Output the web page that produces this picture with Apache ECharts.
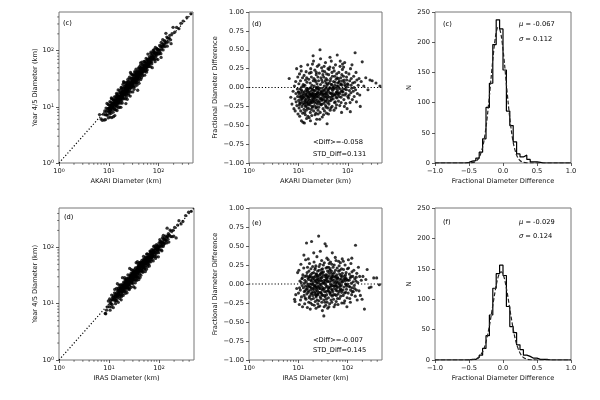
<!DOCTYPE html>
<html style="height: 100%">
<head>
<meta charset="utf-8">
<title></title>
<script type="text/javascript" src="https://cdn.jsdelivr.net/npm/echarts@6.0.0/dist/echarts.min.js"></script>
</head>
<body style="height: 100%; margin: 0">
<div id="container" style="width: 600px; height: 400px"></div>
<script type="text/javascript">
// [AKARI diameter (km), fractional diameter difference]
var akariPoints = [
	[6.5,0.12],[7.0,-0.13],[7.4,-0.22],[7.8,-0.05],
	[8.1,-0.28],[8.3,0.02],[8.5,-0.15],[8.6,-0.31],[8.8,0.08],[8.9,-0.08],[9.0,-0.19],[9.2,0.25],[9.3,-0.24],[9.5,-0.02],[9.6,-0.12],[9.7,0.14],[9.8,-0.35],[9.9,-0.06],
	[10.1,-0.17],[10.2,0.05],[10.3,-0.27],[10.4,-0.09],[10.5,0.18],[10.6,-0.38],[10.7,-0.13],[10.8,-0.02],[10.9,-0.21],[11.0,0.09],[11.1,-0.31],[11.2,-0.07],[11.3,-0.16],[11.4,0.22],[11.5,-0.44],[11.6,-0.11],[11.7,0.01],[11.8,-0.25],[11.9,-0.05],[12.0,-0.19],[12.1,0.13],[12.2,-0.34],[12.3,-0.1],[12.4,-0.46],[12.5,0.04],[10.45,-0.23],[11.25,0.28],[12.15,-0.14],
	[12.7,-0.08],[12.9,-0.29],[13.0,0.16],[13.2,-0.47],[13.3,-0.12],[13.5,0.03],[13.6,-0.2],[13.8,-0.36],[13.9,0.1],[14.0,-0.04],[14.2,-0.24],[14.3,0.21],[14.5,-0.15],[14.6,-0.41],[14.8,-0.07],[14.9,0.07],[15.1,-0.27],[15.2,-0.11],[15.4,0.3],[15.5,-0.18],[15.7,-0.02],[12.8,0.02],[13.4,-0.33],[13.7,-0.16],[14.1,-0.09],[14.4,-0.3],[14.7,0.13],[15.0,-0.21],[15.3,-0.05],[15.6,-0.38],[13.1,-0.22],[14.55,-0.01],
	[15.9,-0.13],[16.1,0.11],[16.2,-0.28],[16.4,-0.06],[16.5,-0.4],[16.7,0.19],[16.8,-0.17],[17.0,-0.01],[17.1,-0.23],[17.3,0.06],[17.4,-0.33],[17.6,-0.1],[17.7,0.25],[17.9,-0.19],[18.0,-0.05],[18.2,-0.29],[18.3,0.14],[18.5,-0.12],[18.6,-0.37],[18.8,0.03],[18.9,-0.2],[19.1,-0.08],[19.2,0.31],[19.4,-0.26],[19.5,-0.03],[19.7,-0.15],[19.9,0.09],[16.0,-0.21],[16.9,-0.09],[17.5,-0.44],[18.1,0.2],[18.7,-0.25],[19.3,-0.11],[19.8,0.42],
	[20.1,-0.07],[20.3,-0.31],[20.5,0.12],[20.7,-0.18],[20.9,0.02],[21.1,-0.24],[21.3,-0.11],[21.5,0.23],[21.7,-0.36],[21.9,-0.04],[22.1,-0.16],[22.3,0.08],[22.5,-0.27],[22.7,-0.09],[22.9,0.17],[23.1,-0.2],[23.3,-0.01],[23.5,-0.42],[23.7,0.05],[23.9,-0.13],[24.1,0.28],[24.3,-0.22],[24.5,-0.06],[24.7,0.14],[24.9,-0.3],[20.2,0.35],[21.0,-0.14],[21.8,0.1],[22.6,-0.34],[23.4,-0.08],[24.0,-0.17],[24.6,0.01],[22.0,-0.48],[23.0,0.2],
	[25.2,-0.12],[25.5,0.09],[25.8,-0.26],[26.1,-0.03],[26.4,0.19],[26.7,-0.19],[27.0,-0.08],[27.3,0.5],[27.6,-0.33],[27.9,0.04],[28.2,-0.14],[28.5,0.13],[28.8,-0.23],[29.1,-0.05],[29.4,0.26],[29.7,-0.17],[30.0,-0.01],[30.3,-0.39],[30.6,0.07],[30.9,-0.1],[31.2,0.17],[31.5,-0.28],[25.0,-0.35],[26.0,0.3],[27.1,-0.15],[28.0,0.38],[28.9,-0.09],[29.9,-0.22],[30.8,0.22],[31.7,-0.04],[26.9,-0.42],[29.5,0.1],
	[32.0,-0.08],[32.4,0.14],[32.8,-0.21],[33.2,0.02],[33.6,-0.31],[34.0,0.21],[34.4,-0.12],[34.8,-0.02],[35.2,0.33],[35.6,-0.18],[36.0,0.06],[36.4,-0.26],[36.8,-0.06],[37.2,0.18],[37.6,-0.14],[38.0,-0.48],[38.4,0.1],[38.8,-0.2],[39.2,-0.03],[39.6,0.25],[32.2,-0.36],[33.0,0.28],[33.8,-0.09],[34.6,0.09],[35.4,-0.24],[36.2,0.12],[37.0,-0.34],[37.8,0.03],[38.6,-0.1],[39.4,-0.27],
	[40.2,-0.05],[40.8,0.17],[41.4,-0.22],[42.0,0.06],[42.6,-0.13],[43.2,0.27],[43.8,-0.3],[44.4,-0.01],[45.0,0.12],[45.6,-0.17],[46.2,0.35],[46.8,-0.08],[47.4,0.04],[48.0,-0.25],[48.6,0.15],[49.2,-0.11],[49.8,0.01],[40.5,-0.35],[41.7,0.24],[42.9,-0.07],[44.1,0.09],[45.3,-0.27],[46.5,-0.15],[47.7,0.2],[48.9,-0.04],[43.5,0.4],
	[50.5,-0.15],[51.3,0.08],[52.1,-0.02],[52.9,0.22],[53.7,-0.2],[54.5,0.03],[55.3,-0.1],[56.1,0.3],[56.9,-0.27],[57.7,0.11],[58.5,-0.06],[59.3,0.18],[60.1,-0.14],[60.9,0.43],[61.7,-0.03],[62.5,0.06],[51.0,0.26],[52.5,-0.3],[54.0,0.15],[55.7,-0.19],[57.3,-0.01],[58.9,-0.23],[60.5,0.13],[62.0,-0.08],
	[63.5,0.02],[64.5,-0.18],[65.5,0.2],[66.5,-0.07],[67.5,0.09],[68.5,-0.24],[69.5,0.28],[70.5,-0.02],[71.5,0.13],[72.5,-0.13],[73.5,0.05],[74.5,-0.33],[75.5,0.17],[76.5,-0.05],[77.5,0.24],[78.5,-0.1],[64.0,0.12],[67.0,-0.12],[70.0,0.35],[73.0,-0.2],[76.0,0.03],[78.0,0.31],
	[80,-0.06],[81.5,0.15],[83,-0.16],[84.5,0.07],[86,0.33],[87.5,-0.1],[89,0.02],[90.5,-0.21],[92,0.2],[93.5,-0.03],[95,0.1],[96.5,-0.28],[98,0.05],[99.5,-0.12],[82,0.27],[88,-0.02],[94,0.14],[85,-0.25],
	[101,0.04],[103,-0.14],[105,0.18],[107,-0.04],[109,0.09],[111,-0.2],[113,0.25],[115,-0.07],[117,0.12],[119,-0.01],[121,0.3],[123,-0.16],[125,0.06],[112,-0.32],
	[128,-0.05],[131,0.15],[134,-0.12],[137,0.07],[140,0.46],[143,-0.03],[146,0.2],[149,-0.19],[152,0.1],[156,-0.08],
	[162,0.03],[168,0.12],[174,-0.1],[178,-0.25],[186,0.08],[195,0.34],
	[210,0.02],[230,0.13],[255,-0.03],[280,0.1],[310,0.09],[370,0.06],[445,0.02],
	[10.15,-0.06],[10.65,-0.2],[11.05,-0.12],[11.45,-0.03],[11.85,-0.15],[12.25,-0.22],[12.65,-0.13],[13.05,-0.06],[13.45,-0.18],[13.85,-0.25],[14.25,-0.1],[14.65,-0.19],[15.05,-0.03],[15.45,-0.12],[15.85,-0.23],[16.25,-0.15],[16.65,-0.08],[17.05,-0.12],[17.45,-0.2],[17.85,0.0],[18.25,-0.09],[18.65,-0.16],[19.05,-0.02],[19.45,-0.18],[19.85,-0.1],
	[20.4,-0.13],[20.8,-0.04],[21.2,-0.2],[21.6,-0.09],[22.4,-0.12],[22.8,0.0],[23.2,-0.26],[23.6,-0.1],[24.4,-0.02],[24.8,-0.07],[25.4,-0.19],[26.2,-0.1],[26.6,-0.01],[27.4,-0.22],[28.4,-0.06],[29.0,-0.15],[29.8,-0.07],[30.5,-0.16],[31.4,-0.12],
	[32.6,-0.15],[33.4,-0.04],[34.2,-0.18],[35.0,-0.08],[35.8,-0.12],[36.6,0.0],[37.4,-0.08],[38.2,-0.16],[39.0,0.05],[40.0,-0.12],[41.0,-0.02],[42.3,-0.18],[43.0,0.0],[44.7,-0.08],[45.9,0.04],[47.1,-0.12],[48.3,-0.02],
	[50.0,-0.08],[51.7,0.0],[53.3,-0.1],[55.0,0.07],[56.5,-0.08],[58.2,-0.13],[59.8,0.02],[61.3,-0.06],[63.0,-0.1],[65.0,0.0],[66.0,0.07],[69.0,-0.08],[71.0,0.04],[74.0,-0.05],[77.0,0.09],
	[81,-0.02],[84,0.1],[87,0.04],[91,-0.08],[97,0.01],[106,-0.1],[116,0.03],[133,0.0]
];

// [IRAS diameter (km), fractional diameter difference]
var irasPoints = [
	[8.4,-0.2],[8.6,-0.23],[8.9,-0.14],[9.3,-0.06],[9.7,0.15],
	[10.1,-0.12],[10.3,0.18],[10.5,-0.27],[10.8,0.04],[11.0,-0.08],[11.3,0.26],[11.6,-0.17],[11.8,0.07],[12.0,-0.02],[12.2,-0.3],[12.4,0.12],[11.1,-0.21],
	[12.7,-0.05],[12.9,0.21],[13.1,-0.15],[13.3,0.01],[13.5,-0.26],[13.7,0.1],[13.9,-0.09],[14.1,0.32],[14.3,-0.2],[14.5,0.03],[14.7,0.54],[14.9,-0.13],[15.1,0.15],[15.3,-0.31],[15.5,-0.03],[15.7,0.08],[13.0,0.38],[13.8,-0.18],[14.6,-0.07],[15.4,0.22],
	[15.9,-0.11],[16.1,0.06],[16.3,-0.24],[16.5,0.17],[16.7,-0.03],[16.9,0.27],[17.1,-0.16],[17.3,0.0],[17.5,-0.33],[17.7,0.12],[17.9,-0.08],[18.1,0.2],[18.3,-0.2],[18.5,0.04],[18.6,0.56],[18.8,-0.12],[19.0,0.14],[19.2,-0.27],[19.4,-0.01],[19.6,0.23],[19.8,-0.15],[16.0,0.33],[16.6,-0.18],[17.2,0.09],[17.8,-0.25],[18.4,-0.05],[19.1,0.09],[19.7,-0.06],
	[20.1,0.02],[20.3,-0.19],[20.5,0.15],[20.7,-0.07],[20.9,0.29],[21.1,-0.28],[21.3,0.06],[21.5,-0.12],[21.7,0.19],[21.9,-0.02],[22.1,-0.23],[22.3,0.1],[22.5,-0.1],[22.7,0.24],[22.9,-0.32],[23.1,0.03],[23.3,-0.15],[23.5,0.13],[23.7,-0.05],[23.9,0.36],[24.1,-0.21],[24.3,0.07],[24.5,-0.09],[24.7,0.17],[24.9,-0.26],[20.6,0.41],[21.4,-0.02],[22.2,0.21],[23.0,-0.17],[23.8,0.05],[24.6,-0.13],[22.6,-0.04],
	[25.1,0.11],[25.3,-0.14],[25.6,0.02],[25.9,0.63],[26.2,-0.22],[26.5,0.18],[26.8,-0.06],[27.1,0.08],[27.4,-0.29],[27.7,0.26],[28.0,0.43],[28.3,-0.11],[28.6,0.05],[28.9,-0.19],[29.2,0.15],[29.5,-0.03],[29.8,0.31],[30.1,-0.24],[30.4,0.09],[30.7,-0.08],[31.0,0.2],[31.3,-0.15],[31.6,0.01],[25.5,-0.3],[26.4,0.23],[27.3,-0.01],[28.2,0.13],[29.1,-0.12],[30.0,0.04],[30.9,-0.35],[31.8,0.12],[26.0,-0.04],[27.9,-0.17],[29.7,0.19],
	[32.1,-0.07],[32.5,0.16],[32.9,-0.21],[33.3,0.05],[33.0,-0.42],[33.7,0.28],[34.1,-0.1],[34.5,0.01],[34.9,0.53],[35.3,-0.17],[35.7,0.12],[36.1,-0.28],[36.5,0.21],[36.9,-0.04],[37.0,0.5],[37.3,0.09],[37.7,-0.14],[38.1,0.34],[38.5,-0.24],[38.9,0.03],[39.3,0.17],[39.7,-0.09],[32.3,0.25],[33.5,-0.3],[34.7,0.1],[35.9,-0.01],[37.1,-0.2],[38.3,0.07],[39.5,-0.32],[34.3,-0.15],[36.3,0.06],[38.7,0.22],
	[40.3,0.04],[40.9,-0.18],[41.5,0.22],[42.1,-0.05],[42.7,0.11],[43.3,-0.26],[43.9,0.18],[44.5,-0.11],[45.1,0.29],[45.7,0.0],[46.3,-0.21],[46.9,0.14],[47.5,-0.07],[48.1,0.26],[48.7,-0.16],[49.0,0.41],[49.3,0.06],[49.9,-0.02],[40.6,0.32],[41.8,-0.3],[43.0,0.03],[44.2,0.2],[45.4,-0.14],[46.6,0.08],[47.8,-0.24],[48.4,0.1],[41.2,-0.09],[44.8,-0.04],[47.2,0.17],[42.4,0.27],
	[50.4,-0.1],[51.2,0.13],[52.0,-0.2],[52.8,0.05],[53.6,0.25],[54.4,-0.06],[55.2,0.09],[56.0,-0.27],[56.8,0.18],[57.6,-0.02],[58.4,0.31],[59.2,-0.15],[60.0,0.07],[60.8,-0.09],[61.6,0.21],[62.4,-0.19],[50.8,0.22],[52.4,-0.03],[54.0,0.15],[55.6,-0.14],[57.2,0.02],[58.8,-0.23],[60.4,0.12],[62.0,0.01],[53.2,-0.3],[56.4,0.35],[59.6,0.04],[61.2,-0.05],
	[63.5,0.08],[64.5,-0.13],[65.5,0.17],[66.5,-0.04],[67.5,0.24],[68.5,-0.19],[69.5,0.06],[70.5,-0.08],[71.5,0.28],[72.5,-0.16],[73.5,0.11],[74.5,-0.02],[75.5,0.2],[76.5,-0.25],[77.5,0.04],[78.5,0.14],[64.0,-0.27],[66.0,0.3],[68.0,0.0],[70.0,0.18],[72.0,-0.06],[74.0,0.07],[76.0,-0.11],[78.0,0.33],
	[80,0.03],[81.5,-0.15],[83,0.19],[84.5,-0.04],[86,0.1],[87.5,-0.22],[89,0.25],[90.5,0.0],[92,-0.11],[93.5,0.15],[95,-0.07],[96.5,0.06],[98,-0.18],[99.5,0.2],[82,0.3],[85,-0.25],[88,0.07],[91,0.12],[94,-0.01],[97,-0.3],
	[101,0.05],[103,-0.12],[105,0.21],[107,-0.03],[109,0.13],[111,-0.19],[113,0.08],[115,-0.08],[117,0.27],[119,0.01],[121,-0.14],[123,0.16],[125,-0.05],[104,0.32],[114,-0.24],[122,0.34],
	[128,0.1],[131,-0.1],[134,0.18],[137,-0.02],[140,0.07],[143,-0.16],[145,0.51],[148,0.04],[151,-0.08],[154,0.14],[157,-0.21],
	[161,0.02],[166,0.22],[171,-0.09],[176,0.1],[182,-0.15],[190,0.05],[197,-0.2],
	[205,0.1],[220,-0.33],[235,0.06],[250,0.19],[275,-0.05],[300,-0.04],[340,0.08],[390,0.08],[440,-0.01],
	[10.6,-0.05],[11.5,0.02],[12.1,0.08],[13.2,-0.1],[13.6,0.05],[14.0,-0.03],[14.8,0.11],[15.2,-0.06],[15.6,0.0],[16.2,-0.09],[16.8,0.1],[17.4,-0.04],[18.0,0.05],[18.2,-0.13],[18.9,0.0],[19.5,0.07],
	[20.0,-0.1],[20.8,0.09],[21.2,-0.04],[21.8,0.04],[22.4,-0.14],[22.8,0.13],[23.4,-0.07],[24.0,0.01],[24.4,0.1],[24.8,-0.03],[25.4,0.06],[26.1,-0.11],[26.7,0.04],[27.5,0.12],[28.1,-0.06],[28.8,0.0],[29.4,0.08],[30.2,-0.14],[30.8,0.15],[31.5,-0.05],
	[32.7,0.02],[33.9,-0.06],[34.8,-0.24],[35.5,0.04],[36.7,-0.1],[37.9,0.12],[39.1,-0.03],[39.9,0.09],[40.8,-0.06],[42.0,0.15],[43.6,-0.12],[45.0,0.07],[46.0,-0.02],[47.0,0.04],[48.6,-0.08],
	[50.2,0.1],[51.6,-0.14],[53.0,0.02],[55.0,-0.02],[57.0,0.1],[58.0,-0.08],[60.2,-0.03],[62.8,0.08],[65.0,0.03],[67.0,-0.1],[69.0,0.13],[71.0,-0.02],[73.0,0.02],[75.0,-0.08],[77.0,0.1],
	[80.8,-0.08],[83.8,0.06],[86.8,-0.12],[89.8,0.04],[92.8,0.08],[95.8,-0.03],[100,0.0],[108,0.05],[112,-0.04],[118,0.1],[124,-0.1],[130,0.03],[139,-0.06],[150,0.09]
];

// histogram: 40 bins of 0.05 from -1.0 to 1.0
var histStart = -1.0;
var histWidth = 0.05;
var akariCounts = [0,0,0,0,0,0,0,0,0,1, 3,4,8,18,40,92,132,196,237,222, 154,86,62,35,15,10,13,6,2,2, 1,0,0,0,0,0,0,0,0,0];
var irasCounts  = [0,0,0,0,0,0,0,0,0,0, 1,1,4,8,19,40,74,118,142,156, 139,88,55,45,25,17,8,6,3,3, 1,1,1,0,0,0,0,0,0,0];

// gaussian fit curves
var fitX = [-1.0,-0.8,-0.6,-0.5,-0.45,-0.4,-0.35,-0.3,-0.275,-0.25,-0.225,-0.2,-0.175,-0.15,-0.125,-0.1,-0.075,-0.05,-0.025,0,0.025,0.05,0.075,0.1,0.125,0.15,0.175,0.2,0.225,0.25,0.275,0.3,0.35,0.4,0.45,0.5,0.6,0.8,1.0];
var akariFit = [0,0,0,0.1,0.65,2.7,9.2,26,40,59,83,111,141,171,197,216,224,222,210,188,161,130,101,74,52,34,22,13,7.5,4.1,2.1,1.05,0.2,0,0,0,0,0,0];
var irasFit = [0,0,0,0.1,0.45,1.65,5.1,13.3,20,29.6,42,56,72.5,90,107,123,135,143,145,141,132,118,102,84,67,51,37,26,18,11.5,7,4.3,1.4,0.4,0.1,0,0,0,0];

var logMinor = [2,3,4,5,6,7,8,9,20,30,40,50,60,70,80,90,200,300,400];
var topMax = 490;
var botMax = 500;

var fontFam = '"DejaVu Sans", sans-serif';
var fs = 6.7;

var dom = document.getElementById('container');
var myChart = echarts.init(dom);

function gridBox(left, top, width, height) {
	return {left: left, top: top, width: width, height: height, show: true,
		borderColor: '#777', borderWidth: 1, backgroundColor: 'transparent', outerBoundsMode: 'none'};
}

function logFmt(v) {
	return '10{s|' + Math.round(Math.log10(v)) + '}';
}
function numFmt(d) {
	return function(v) { return v.toFixed(d).replace('-', '\u2212'); };
}

function makeAxis(gi, opt) {
	var a = {
		gridIndex: gi,
		nameLocation: 'middle',
		splitLine: {show: false},
		axisLine: {show: false, onZero: false},
		axisTick: {show: true, inside: false, length: 3, lineStyle: {color: '#333', width: 0.8}},
		axisLabel: {fontSize: fs, fontFamily: fontFam, color: '#111', margin: 5},
		nameTextStyle: {fontSize: fs, fontFamily: fontFam, color: '#111'}
	};
	if (opt.type === 'log') {
		a.axisLabel.formatter = logFmt;
		a.axisLabel.showMaxLabel = false;
		a.axisLabel.rich = {s: {fontSize: 4.8, fontFamily: fontFam, color: '#111', verticalAlign: 'top'}};
	}
	if (opt.fmt) a.axisLabel.formatter = opt.fmt;
	for (var k in opt) {
		if (k !== 'fmt') a[k] = opt[k];
	}
	return a;
}

function minorTicks(ai, dim, edge, max) {
	var data = [];
	for (var i = 0; i < logMinor.length; i++) {
		if (logMinor[i] < max) data.push(dim === 'x' ? [logMinor[i], edge] : [edge, logMinor[i]]);
	}
	return {
		type: 'custom', xAxisIndex: ai, yAxisIndex: ai, silent: true, clip: false, data: data, z: 5,
		renderItem: function(params, api) {
			var p = api.coord([api.value(0), api.value(1)]);
			var shape = dim === 'x' ? {x1: p[0], y1: p[1], x2: p[0], y2: p[1] + 1.8}
				: {x1: p[0] - 1.8, y1: p[1], x2: p[0], y2: p[1]};
			return {type: 'line', shape: shape, style: {stroke: '#333', lineWidth: 0.7}};
		}
	};
}

function stepData(counts) {
	var d = [];
	for (var i = 0; i < counts.length; i++) {
		d.push([Math.round((histStart + i * histWidth) * 100) / 100, counts[i]]);
	}
	d.push([Math.round((histStart + counts.length * histWidth) * 100) / 100, 0]);
	return d;
}
function fitData(fit) {
	var d = [];
	for (var i = 0; i < fitX.length; i++) d.push([fitX[i], fit[i]]);
	return d;
}

var akariScatter = akariPoints.map(function(p) { return [p[0], p[0] * (1 + p[1])]; });
var irasScatter = irasPoints.map(function(p) { return [p[0], p[0] * (1 + p[1])]; });

function txt(x, y, s, rich) {
	var st = {text: s, fontSize: fs, fontFamily: fontFam, fill: '#000'};
	if (rich) st.rich = rich;
	return {type: 'text', x: x, y: y, silent: true, style: st};
}
var ital = {i: {fontStyle: 'italic', fontSize: fs, fontFamily: fontFam, fill: '#000'}};

var dotted = {type: [1.2, 2], width: 1.2, color: '#000'};
var dashed = {type: [4, 2], width: 1.2, color: '#222'};

option = {
	animation: false,
	backgroundColor: '#fff',
	grid: [
		gridBox(59, 12, 134, 151),
		gridBox(249, 12, 133, 151),
		gridBox(435, 12, 136, 151),
		gridBox(59, 208, 135, 152),
		gridBox(249, 208, 133, 152),
		gridBox(435, 208, 136, 152)
	],
	xAxis: [
		makeAxis(0, {type: 'log', min: 1, max: topMax, name: 'AKARI Diameter (km)', nameGap: 15}),
		makeAxis(1, {type: 'log', min: 1, max: topMax, name: 'AKARI Diameter (km)', nameGap: 15}),
		makeAxis(2, {type: 'value', min: -1, max: 1, interval: 0.5, fmt: numFmt(1), name: 'Fractional Diameter Difference', nameGap: 15}),
		makeAxis(3, {type: 'log', min: 1, max: botMax, name: 'IRAS Diameter (km)', nameGap: 15}),
		makeAxis(4, {type: 'log', min: 1, max: botMax, name: 'IRAS Diameter (km)', nameGap: 15}),
		makeAxis(5, {type: 'value', min: -1, max: 1, interval: 0.5, fmt: numFmt(1), name: 'Fractional Diameter Difference', nameGap: 15})
	],
	yAxis: [
		makeAxis(0, {type: 'log', min: 1, max: topMax, name: 'Year 4/5 Diameter (km)', nameGap: 19}),
		makeAxis(1, {type: 'value', min: -1, max: 1, interval: 0.25, fmt: numFmt(2), name: 'Fractional Diameter Difference', nameGap: 30}),
		makeAxis(2, {type: 'value', min: 0, max: 250, interval: 50, name: 'N', nameGap: 22}),
		makeAxis(3, {type: 'log', min: 1, max: botMax, name: 'Year 4/5 Diameter (km)', nameGap: 19}),
		makeAxis(4, {type: 'value', min: -1, max: 1, interval: 0.25, fmt: numFmt(2), name: 'Fractional Diameter Difference', nameGap: 30}),
		makeAxis(5, {type: 'value', min: 0, max: 250, interval: 50, name: 'N', nameGap: 22})
	],
	graphic: [
		txt(63, 20, '(c)'),
		txt(252, 21, '(d)'),
		txt(443, 21, '(c)'),
		txt(519, 21, '{i|\u03bc} = -0.067', ital),
		txt(519, 36, '{i|\u03c3} = 0.112', ital),
		txt(313, 139, '<Diff>=-0.058'),
		txt(313, 150.5, 'STD_Diff=0.131'),
		txt(64, 214, '(d)'),
		txt(252, 220, '(e)'),
		txt(443, 219, '(f)'),
		txt(519, 219, '{i|\u03bc} = -0.029', ital),
		txt(519, 232.5, '{i|\u03c3} = 0.124', ital),
		txt(313, 336.5, '<Diff>=-0.007'),
		txt(313, 347, 'STD_Diff=0.145')
	],
	series: [
		{type: 'line', xAxisIndex: 0, yAxisIndex: 0, data: [[1, 1], [topMax, topMax]], symbol: 'none', lineStyle: dotted, z: 1, silent: true},
		{type: 'scatter', xAxisIndex: 0, yAxisIndex: 0, data: akariScatter, symbolSize: 3.3, itemStyle: {color: '#000'}, silent: true, z: 3},
		{type: 'line', xAxisIndex: 1, yAxisIndex: 1, data: [[1, 0], [topMax, 0]], symbol: 'none', lineStyle: dotted, z: 1, silent: true},
		{type: 'scatter', xAxisIndex: 1, yAxisIndex: 1, data: akariPoints, symbolSize: 3.1, itemStyle: {color: '#000'}, silent: true, z: 3},
		{type: 'line', xAxisIndex: 2, yAxisIndex: 2, data: stepData(akariCounts), step: 'end', symbol: 'none', lineStyle: {color: '#000', width: 1.2}, silent: true},
		{type: 'line', xAxisIndex: 2, yAxisIndex: 2, data: fitData(akariFit), smooth: 0.3, symbol: 'none', lineStyle: dashed, silent: true},

		{type: 'line', xAxisIndex: 3, yAxisIndex: 3, data: [[1, 1], [botMax, botMax]], symbol: 'none', lineStyle: dotted, z: 1, silent: true},
		{type: 'scatter', xAxisIndex: 3, yAxisIndex: 3, data: irasScatter, symbolSize: 3.3, itemStyle: {color: '#000'}, silent: true, z: 3},
		{type: 'line', xAxisIndex: 4, yAxisIndex: 4, data: [[1, 0], [botMax, 0]], symbol: 'none', lineStyle: dotted, z: 1, silent: true},
		{type: 'scatter', xAxisIndex: 4, yAxisIndex: 4, data: irasPoints, symbolSize: 3.1, itemStyle: {color: '#000'}, silent: true, z: 3},
		{type: 'line', xAxisIndex: 5, yAxisIndex: 5, data: stepData(irasCounts), step: 'end', symbol: 'none', lineStyle: {color: '#000', width: 1.2}, silent: true},
		{type: 'line', xAxisIndex: 5, yAxisIndex: 5, data: fitData(irasFit), smooth: 0.3, symbol: 'none', lineStyle: dashed, silent: true},

		minorTicks(0, 'x', 1, topMax),
		minorTicks(0, 'y', 1, topMax),
		minorTicks(1, 'x', -1, topMax),
		minorTicks(3, 'x', 1, botMax),
		minorTicks(3, 'y', 1, botMax),
		minorTicks(4, 'x', -1, botMax)
	]
};

myChart.setOption(option);
</script>
</body>
</html>
